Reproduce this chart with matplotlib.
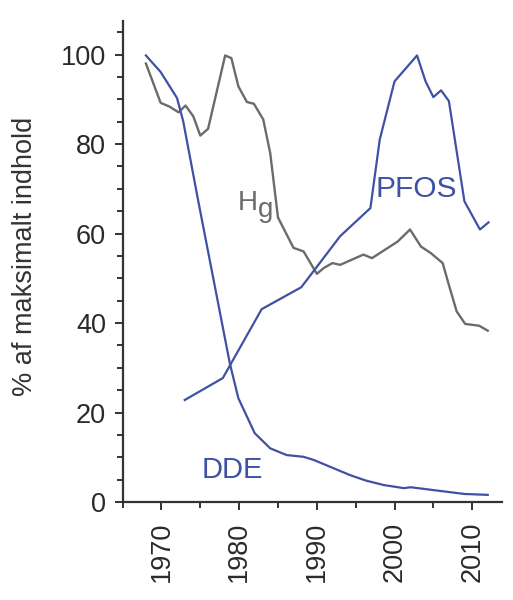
import numpy as np
import matplotlib
matplotlib.use("Agg")
import matplotlib.pyplot as plt
from matplotlib.ticker import MultipleLocator

plt.rcParams['font.family'] = ['Liberation Sans', 'DejaVu Sans']

# Hg (kviksølv)
hg_year = [1968.0, 1969.9, 1971.0, 1972.2, 1973.1, 1974.1, 1975.0, 1976.0, 1978.2, 1979.0,
           1979.9, 1981.0, 1981.9, 1983.1, 1984.0, 1985.0, 1987.0, 1988.3, 1990.0, 1990.9,
           1992.0, 1993.0, 1996.0, 1997.1, 2000.4, 2002.0, 2003.4, 2004.7, 2006.2, 2007.0,
           2008.0, 2009.1, 2010.9, 2012.0]
hg_val = [98.0, 89.2, 88.4, 87.1, 88.6, 86.2, 81.9, 83.4, 99.8, 99.2,
          92.9, 89.4, 89.0, 85.5, 78.0, 63.6, 56.8, 56.0, 51.0, 52.3,
          53.4, 53.0, 55.3, 54.5, 58.2, 60.9, 57.1, 55.6, 53.4, 48.5,
          42.6, 39.8, 39.4, 38.3]

# PFOS
pfos_year = [1973.0, 1977.9, 1982.9, 1988.0, 1993.0, 1996.9, 1998.1, 2000.0, 2002.9,
             2004.0, 2005.0, 2006.0, 2007.0, 2009.0, 2011.0, 2012.1]
pfos_val = [22.8, 27.7, 43.1, 48.0, 59.4, 65.7, 81.0, 94.0, 99.8,
            94.0, 90.5, 92.0, 89.6, 67.2, 60.9, 62.5]

# DDE
dde_year = [1968.0, 1969.9, 1972.0, 1972.8, 1974.7, 1978.8, 1979.9, 1982.0, 1984.0,
            1986.1, 1988.3, 1989.6, 1994.3, 1996.3, 1998.6, 2001.2, 2002.1, 2009.0, 2012.0]
dde_val = [99.8, 96.1, 90.3, 85.1, 67.6, 31.0, 23.2, 15.4, 12.0,
           10.5, 10.1, 9.4, 6.0, 4.8, 3.8, 3.1, 3.3, 1.8, 1.6]

blue = '#3f51a5'
grey = '#6b6b6b'
dark = '#333333'

fig = plt.figure(figsize=(5.13, 6.0), dpi=100)
ax = fig.add_axes([0.239, 0.1633, 0.739, 0.8017])

ax.plot(hg_year, hg_val, color=grey, lw=1.7)
ax.plot(dde_year, dde_val, color=blue, lw=1.6)
ax.plot(pfos_year, pfos_val, color=blue, lw=1.6)

ax.text(1979.8, 65.3, 'H', color=grey, fontsize=20)
ax.text(1982.4, 63.6, 'g', color=grey, fontsize=20)
ax.text(1997.6, 68.2, 'PFOS', color=blue, fontsize=21.5)
ax.text(1975.2, 5.3, 'DDE', color=blue, fontsize=21)

ax.set_xlim(1965, 2013.8)
ax.set_ylim(0, 107.5)
ax.xaxis.set_major_locator(MultipleLocator(10))
ax.xaxis.set_minor_locator(MultipleLocator(5))
ax.yaxis.set_major_locator(MultipleLocator(20))
ax.yaxis.set_minor_locator(MultipleLocator(5))

for s in ['top', 'right']:
    ax.spines[s].set_visible(False)
for s in ['left', 'bottom']:
    ax.spines[s].set_color(dark)
    ax.spines[s].set_linewidth(1.6)

ax.tick_params(which='major', length=6, width=1.4, color=dark, labelsize=19.5,
               labelcolor='#2a2a2a')
ax.tick_params(which='minor', length=4, width=1.4, color=dark)
ax.tick_params(axis='y', which='major', pad=6)
ax.tick_params(axis='x', which='major', pad=8, labelrotation=90)

fig.text(25 / 513, 1 - 256 / 600, '% af maksimalt indhold', rotation=90,
         ha='center', va='center', fontsize=19.5, color='#333333')

fig.savefig('out.png', dpi=100, facecolor='white')
